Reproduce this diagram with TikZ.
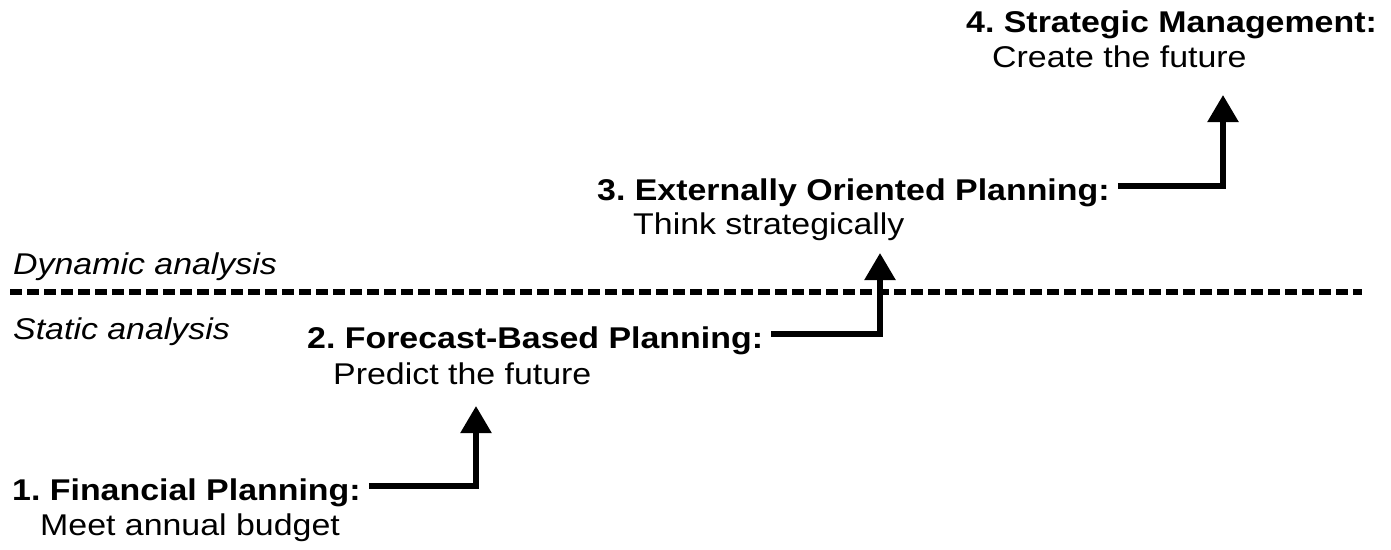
\documentclass[tikz,border=0pt]{standalone}
\usepackage{fontspec}
\setmainfont[FakeStretch=1.13]{Liberation Sans}
\usetikzlibrary{arrows.meta}
\frenchspacing
\begin{document}
\begin{tikzpicture}[x=1pt,y=-1pt,
  lbl/.style={anchor=base west,inner sep=0pt,text depth=0pt,text height=21pt,font=\fontsize{30}{34}\selectfont\frenchspacing},
  head/.style={lbl,font=\fontsize{30}{34}\selectfont\bfseries\frenchspacing},
  note/.style={lbl,font=\fontsize{30}{34}\selectfont\itshape},
  arr/.style={line width=5.5pt,-{Triangle[length=27pt,width=30pt]}},
  sep/.style={line width=5.5pt,dash pattern=on 12pt off 5pt}]
\useasboundingbox (0,0) rectangle (1391,549);
% labels
\node[head] (n4a) at (966,32) {4. Strategic Management:};
\node[lbl]  (n4b) at (992,67) {Create the future};
\node[head] (n3a) at (597,200) {3. Externally Oriented Planning:};
\node[lbl]  (n3b) at (633,234) {Think strategically};
\node[note] (dyn) at (13,274) {Dynamic analysis};
\node[note] (sta) at (13,339) {Static analysis};
\node[head] (n2a) at (307,348) {2. Forecast-Based Planning:};
\node[lbl]  (n2b) at (333,384) {Predict the future};
\node[head] (n1a) at (12,500) {1. Financial Planning:};
\node[lbl]  (n1b) at (40,535) {Meet annual budget};
% separator
\coordinate (sl) at (10,292);
\coordinate (sr) at (1362,292);
\draw[sep] (sl) -- (sr);
% arrow tips
\coordinate (t1) at (476,406);
\coordinate (t2) at (880,253);
\coordinate (t3) at (1223,95);
\draw[arr] ([xshift=8pt,yshift=3.5pt]n1a.east) -| (t1);
\draw[arr] ([xshift=8pt,yshift=3.5pt]n2a.east) -| (t2);
\draw[arr] ([xshift=8pt,yshift=3.5pt]n3a.east) -| (t3);
\end{tikzpicture}
\end{document}
